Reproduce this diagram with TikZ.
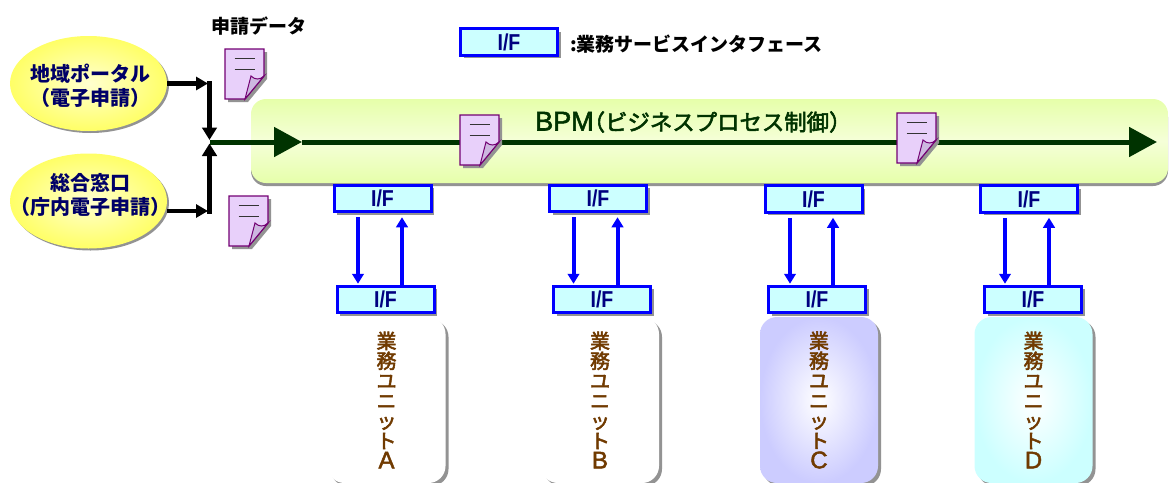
\documentclass[tikz,border=0pt]{standalone}
\usepackage{fontspec}
\setmainfont{Noto Sans CJK JP}
\newfontfamily\latinfont[FakeBold=2]{Liberation Sans}
\newfontfamily\narrowfont[FakeStretch=0.85]{Liberation Sans}
\newfontfamily\mediumfont[FakeBold=2.5]{Noto Sans CJK JP}
\usetikzlibrary{arrows.meta,shadows,shapes.geometric}
\lineskiplimit=-100pt
\definecolor{bpmgreen}{HTML}{003300}
\definecolor{bandedge}{HTML}{E6FFAA}
\definecolor{bandmid}{HTML}{F5FFD8}
\definecolor{unitbrown}{HTML}{703A00}
\definecolor{pagefill}{HTML}{E8D0FA}
\definecolor{foldfill}{HTML}{CDB8E0}
\definecolor{ifcyan}{HTML}{CCFFFF}
\definecolor{ifblue}{HTML}{0000FF}
\definecolor{ifnavy}{HTML}{000080}
\definecolor{unitlilac}{HTML}{CCCCFF}
\definecolor{officeedge}{HTML}{FFFF66}
\definecolor{officemid}{HTML}{FFFFD0}
\tikzset{
  boxshadow/.style={drop shadow={shadow xshift=3pt,shadow yshift=-3pt,fill=gray!85,opacity=1}},
  ifbox/.style={draw=ifblue,line width=3pt,fill=ifcyan,minimum width=97pt,minimum height=26.5pt,
    inner sep=0pt,text=ifnavy,font=\narrowfont\bfseries\fontsize{23}{24}\selectfont,boxshadow},
  ifarrow/.style={draw=ifblue,line width=4pt,-{Triangle[length=10pt,width=11.5pt]}},
  channel/.style={draw=black,line width=5pt,-{Triangle[length=12.5pt,width=14.5pt]}},
  channelthin/.style={draw=black,line width=4.6pt,-{Triangle[length=12pt,width=13pt]}},
  flow/.style={draw=bpmgreen,line width=5pt,-{Triangle[length=28pt,width=29pt]}},
  office/.style={ellipse,minimum width=157pt,minimum height=95pt,inner sep=0pt,
    inner color=officemid,outer color=officeedge,
    drop shadow={shadow xshift=2pt,shadow yshift=-2pt,fill=gray!85,opacity=1}},
  officetext/.style={inner sep=0pt,align=center,text=ifnavy!80!black,
    font=\bfseries\fontsize{20}{24}\selectfont},
  unit/.style={rectangle,rounded corners=17pt,minimum width=118pt,minimum height=166pt,inner sep=0pt,
    align=center,text=unitbrown,font=\mediumfont\fontsize{20}{20}\selectfont,
    drop shadow={shadow xshift=3pt,shadow yshift=-3pt,fill=gray!85,opacity=1}},
  docpage/.pic={
    \fill[gray!85] (3,3) -- (42,3) -- (42,30) -- (23,53) -- (3,53) -- cycle;
    \draw[draw=violet!90!black,fill=pagefill,line width=1.3pt] (0,0) -- (39,0) -- (39,27) -- (20,50) -- (0,50) -- cycle;
    \draw[draw=violet!90!black,fill=foldfill,line width=1pt] (20,50) -- (26,27) .. controls (30,31) and (35,31) .. (39,27) -- cycle;
    \draw[line width=0.9pt,black!80] (9.5,9.5) -- (30,9.5);
    \draw[line width=0.9pt,black!80] (9.5,20) -- (30,20);
  }
}
\newcommand\unitletter[1]{{\latinfont\fontsize{24}{20}\selectfont #1}}
\begin{document}
\begin{tikzpicture}[x=1pt,y=-1pt]
  \useasboundingbox (0,0) rectangle (1169,482);
  % process band
  \node[rectangle,rounded corners=15pt,minimum width=917pt,minimum height=84pt,inner sep=0pt,
    top color=bandedge,bottom color=bandedge,middle color=bandmid,
    drop shadow={shadow xshift=0pt,shadow yshift=-3pt,fill=gray!85,opacity=1}] (bpm) at (709.5,141) {};
  \node[anchor=west,text=bpmgreen,font=\mediumfont\fontsize{22.4}{24}\selectfont,inner sep=0pt] (bpmtitle) at (535,122)
    {{\latinfont\fontsize{27}{24}\selectfont BPM}\hspace{-11pt}（ビジネスプロセス制御）};
  % offices
  \node[office] (portal) at (88.5,83.5) {};
  \node[office] (window) at (88.5,201) {};
  \node[officetext] (portaltext) at (90,86) {地域ポータル\\（電子申請）};
  \node[officetext] (windowtext) at (90,195) {総合窓口\\（庁内電子申請）};
  \coordinate (cornera) at (209.5,83.5);
  \coordinate (cornerb) at (209.5,211);
  \coordinate (junctiona) at (209.5,140);
  \coordinate (junctionb) at (209.5,143.5);
  \coordinate (flowstart) at (209.5,142);
  \coordinate (flowmid) at (302,142);
  \coordinate (flowend) at (1157,142);
  \draw[channelthin] (portal.east) -- ([xshift=-1.5pt]cornera);
  \draw[channelthin] (window.east |- cornerb) -- ([xshift=-1.5pt]cornerb);
  \begin{scope}[line cap=rect]
    \draw[channel] (cornera) -- (junctiona);
    \draw[channel] (cornerb) -- (junctionb);
  \end{scope}
  \draw[flow] (flowstart) -- (flowmid);
  \draw[flow] (flowmid) -- (flowend);
  % data sheets
  \node[font=\bfseries\fontsize{19}{20}\selectfont,inner sep=0pt] (datalabel) at (258.5,26) {申請データ};
  \pic at (225,49) {docpage};
  \pic at (229,196) {docpage};
  \pic at (460,115) {docpage};
  \pic at (897,113) {docpage};
  % legend
  \node[ifbox] (legendbox) at (509,42) {I/F};
  \node[anchor=west,font=\bfseries\fontsize{19}{20}\selectfont,inner sep=0pt] (legendtext) at (570,44) {:業務サービスインタフェース};
  % units
  \node[unit,fill=white] (unita) at (386.5,400)
    {業\\務\\ユ\\ニ\\ッ\\ト\\\unitletter{A}};
  \node[unit,fill=white] (unitb) at (600,400)
    {業\\務\\ユ\\ニ\\ッ\\ト\\\unitletter{B}};
  \node[unit,inner color=white,outer color=unitlilac] (unitc) at (819,400)
    {業\\務\\ユ\\ニ\\ッ\\ト\\\unitletter{C}};
  \node[unit,inner color=white,outer color=ifcyan] (unitd) at (1033.5,400)
    {業\\務\\ユ\\ニ\\ッ\\ト\\\unitletter{D}};
  % interfaces
  \node[ifbox] (ifa) at (382.5,198.5) {I/F};
  \node[ifbox] (ifb) at (598,198.5) {I/F};
  \node[ifbox] (ifc) at (813.5,199) {I/F};
  \node[ifbox] (ifd) at (1029,199) {I/F};
  \node[ifbox] (lowa) at (385.5,299.5) {I/F};
  \node[ifbox] (lowb) at (602,299.5) {I/F};
  \node[ifbox] (lowc) at (817,299.5) {I/F};
  \node[ifbox] (lowd) at (1033,299.5) {I/F};
  \begin{scope}
    \draw[ifarrow] ([xshift=-24.5pt,yshift=-4pt]ifa.south) -- ([xshift=-27.5pt,yshift=1pt]lowa.north);
    \draw[ifarrow] ([xshift=16.5pt]lowa.north) -- ([xshift=19.5pt,yshift=-4pt]ifa.south);
    \draw[ifarrow] ([xshift=-24.5pt,yshift=-4pt]ifb.south) -- ([xshift=-28.5pt,yshift=1pt]lowb.north);
    \draw[ifarrow] ([xshift=15.5pt]lowb.north) -- ([xshift=19.5pt,yshift=-4pt]ifb.south);
    \draw[ifarrow] ([xshift=-23.5pt,yshift=-4pt]ifc.south) -- ([xshift=-27pt,yshift=1pt]lowc.north);
    \draw[ifarrow] ([xshift=16pt]lowc.north) -- ([xshift=19.5pt,yshift=-4pt]ifc.south);
    \draw[ifarrow] ([xshift=-24pt,yshift=-4pt]ifd.south) -- ([xshift=-28pt,yshift=1pt]lowd.north);
    \draw[ifarrow] ([xshift=16pt]lowd.north) -- ([xshift=20pt,yshift=-4pt]ifd.south);
  \end{scope}
\end{tikzpicture}
\end{document}
